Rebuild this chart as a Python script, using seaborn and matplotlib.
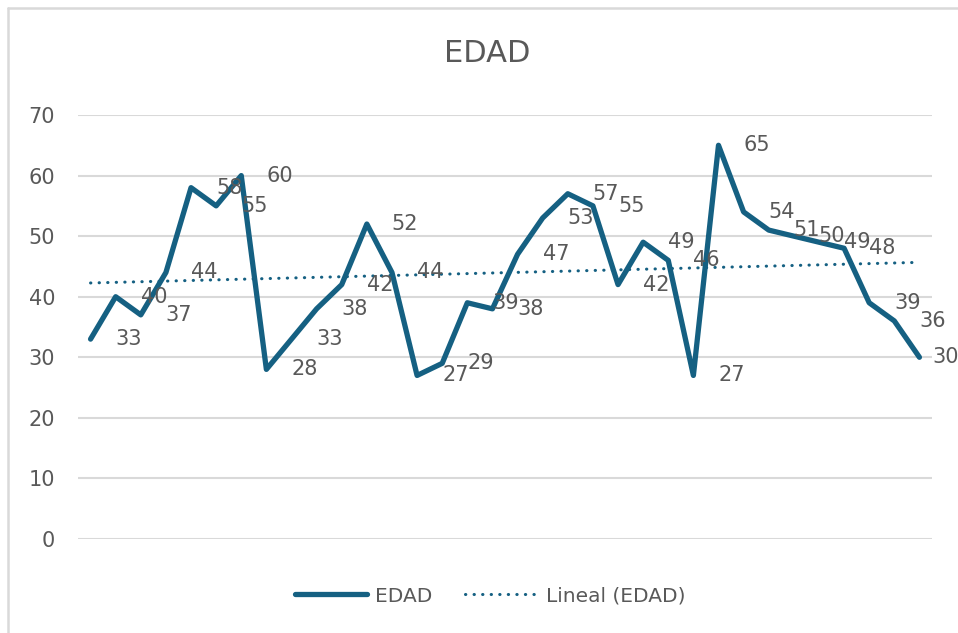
import numpy as np
import pandas as pd
import seaborn as sns
import matplotlib.pyplot as plt
from matplotlib.lines import Line2D

sns.set_style("white")
plt.rcParams['font.family'] = ['DejaVu Sans']

# Data
edad = [33, 40, 37, 44, 58, 55, 60, 28, 33, 38, 42, 52, 44, 27, 29, 39, 38,
        47, 53, 57, 55, 42, 49, 46, 27, 65, 54, 51, 50, 49, 48, 39, 36, 30]
idx = np.arange(len(edad))
df = pd.DataFrame({"n": idx, "EDAD": edad})

# Excel-style linear trendline
slope, intercept = np.polyfit(idx, edad, 1)
df["trend"] = slope * idx + intercept

blue = "#156082"
grey = "#595959"
grid = "#d9d9d9"

fig = plt.figure(figsize=(9.58, 6.33), dpi=100)
ax = fig.add_axes([78 / 958, 1 - 539 / 633, 854 / 958, 424 / 633])

sns.lineplot(data=df, x="n", y="trend", ax=ax, color=blue, lw=2.2,
             linestyle=(0, (0.1, 2.7)), dash_capstyle="round")
sns.lineplot(data=df, x="n", y="EDAD", ax=ax, color=blue, lw=3.8,
             solid_joinstyle="round", solid_capstyle="round")

# data labels to the right of each point (last one pulled in to fit)
for i, v in zip(idx, edad):
    dx = 9 if i == idx[-1] else 18
    ax.annotate(str(v), (i, v), xytext=(dx, 0), textcoords="offset points",
                ha="left", va="center", fontsize=15, color=grey)

ax.set_xlim(-0.5, len(edad) - 0.5)
ax.set_ylim(0, 70)
ax.set_yticks(range(0, 71, 10))
ax.set_xticks([])
ax.set_xlabel("")
ax.set_ylabel("")
ax.yaxis.grid(True, color=grid, lw=1.5)
ax.set_axisbelow(True)
for s in ax.spines.values():
    s.set_visible(False)
ax.tick_params(axis="y", labelsize=15, labelcolor=grey, length=0, pad=16.5)

fig.text(0.5 + 8 / 958, 1 - 53 / 633, "EDAD", ha="center", va="center",
         fontsize=22, color=grey)

handles = [Line2D([], [], color=blue, lw=3.8, solid_capstyle="round"),
           Line2D([], [], color=blue, lw=2.2, linestyle=(0, (0.1, 2.7)),
                  dash_capstyle="round")]
leg = fig.legend(handles, ["EDAD", "Lineal (EDAD)"], loc="center",
                 bbox_to_anchor=(490 / 958, 1 - 596 / 633), ncol=2,
                 frameon=False, fontsize=14.5, handlelength=3.6,
                 columnspacing=1.6, handletextpad=0.4)
for t in leg.get_texts():
    t.set_color(grey)

# chart border (left and top visible)
fig.add_artist(Line2D([8 / 958, 8 / 958], [0, 1 - 8 / 633],
                      transform=fig.transFigure, color=grid, lw=1.8))
fig.add_artist(Line2D([8 / 958, 1], [1 - 8 / 633, 1 - 8 / 633],
                      transform=fig.transFigure, color=grid, lw=1.8))

fig.savefig("out.png", dpi=100, facecolor="white")
